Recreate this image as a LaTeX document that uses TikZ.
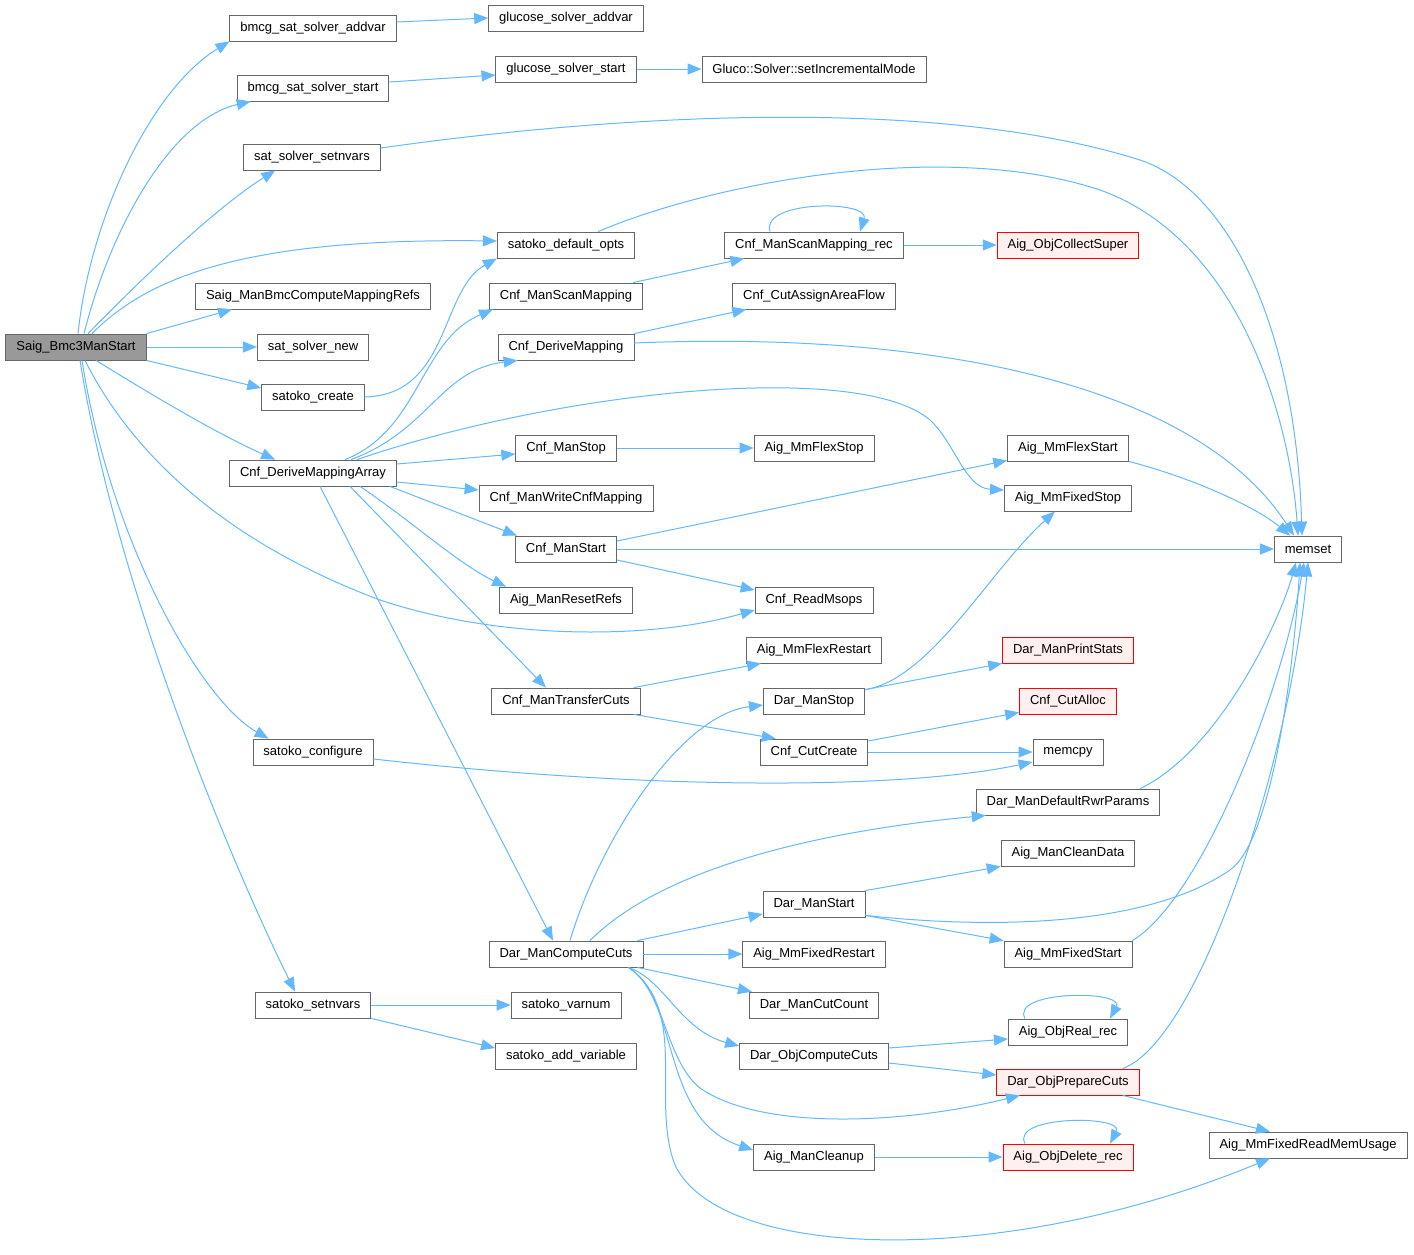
\documentclass[tikz,border=0pt]{standalone}
\usepackage{fontspec}
\setmainfont{Liberation Sans}
\usetikzlibrary{arrows.meta}

\definecolor{callBlue}{HTML}{63B8FF}
\definecolor{boxGray}{HTML}{666666}
\definecolor{rootGray}{HTML}{999999}
\definecolor{hotFill}{HTML}{FFF0F0}

\begin{document}
\begin{tikzpicture}[
    x=1pt, y=-1pt,
    fn/.style={
        draw=boxGray,
        line width=0.8pt,
        fill=white,
        minimum height=26pt,
        inner xsep=10.5pt,
        inner ysep=0pt,
        font=\fontsize{13}{15}\selectfont
    },
    rootfn/.style={fn, fill=rootGray},
    hotfn/.style={fn, draw=red, fill=hotFill},
    call/.style={
        draw=callBlue,
        line width=1pt,
        -{Triangle[length=14pt, width=11pt]}
    }
]

% Page size of the graph
\useasboundingbox (0,0) rectangle (1414,1254);

% Root
\node[rootfn] (bmcStart) at (76,347) {Saig\_Bmc3ManStart};

% Column 1
\node[fn] (satAddvar)   at (313,28)   {bmcg\_sat\_solver\_addvar};
\node[fn] (satStart)    at (313,88)   {bmcg\_sat\_solver\_start};
\node[fn] (satSetnvars) at (312,157)  {sat\_solver\_setnvars};
\node[fn] (mapRefs)     at (313,296)  {Saig\_ManBmcComputeMappingRefs};
\node[fn] (satNew)      at (313,347)  {sat\_solver\_new};
\node[fn] (skCreate)    at (313,397)  {satoko\_create};
\node[fn] (deriveArr)   at (313,473)  {Cnf\_DeriveMappingArray};
\node[fn] (skConfig)    at (313,752)  {satoko\_configure};
\node[fn] (skSetnvars)  at (313,1005) {satoko\_setnvars};

% Column 2
\node[fn] (glAddvar)     at (566,18)   {glucose\_solver\_addvar};
\node[fn] (glStart)      at (566,69)   {glucose\_solver\_start};
\node[fn] (skDefOpts)    at (566,245)  {satoko\_default\_opts};
\node[fn] (scanMap)      at (566,296)  {Cnf\_ManScanMapping};
\node[fn] (deriveMap)    at (566,347)  {Cnf\_DeriveMapping};
\node[fn] (cnfStop)      at (566,448)  {Cnf\_ManStop};
\node[fn] (writeMap)     at (566,498)  {Cnf\_ManWriteCnfMapping};
\node[fn] (cnfStart)     at (566,549)  {Cnf\_ManStart};
\node[fn] (resetRefs)    at (566,600)  {Aig\_ManResetRefs};
\node[fn] (transferCuts) at (566,701)  {Cnf\_ManTransferCuts};
\node[fn] (computeCuts)  at (566,954)  {Dar\_ManComputeCuts};
\node[fn] (skVarnum)     at (566,1005) {satoko\_varnum};
\node[fn] (skAddVar)     at (566,1056) {satoko\_add\_variable};

% Column 3
\node[fn] (glIncr)       at (814,69)   {Gluco::Solver::setIncrementalMode};
\node[fn] (scanRec)      at (814,245)  {Cnf\_ManScanMapping\_rec};
\node[fn] (areaFlow)     at (814,296)  {Cnf\_CutAssignAreaFlow};
\node[fn] (flexStop)     at (814,448)  {Aig\_MmFlexStop};
\node[fn] (readMsops)    at (814,600)  {Cnf\_ReadMsops};
\node[fn] (flexRestart)  at (814,650)  {Aig\_MmFlexRestart};
\node[fn] (darStop)      at (814,701)  {Dar\_ManStop};
\node[fn] (cutCreate)    at (814,752)  {Cnf\_CutCreate};
\node[fn] (darStart)     at (814,904)  {Dar\_ManStart};
\node[fn] (fixedRestart) at (814,954)  {Aig\_MmFixedRestart};
\node[fn] (cutCount)     at (814,1005) {Dar\_ManCutCount};
\node[fn] (objCompute)   at (814,1056) {Dar\_ObjComputeCuts};
\node[fn] (cleanup)      at (814,1157) {Aig\_ManCleanup};

% Column 4
\node[hotfn] (collectSuper) at (1068,245)  {Aig\_ObjCollectSuper};
\node[fn]    (flexStart)    at (1068,448)  {Aig\_MmFlexStart};
\node[fn]    (fixedStop)    at (1068,498)  {Aig\_MmFixedStop};
\node[hotfn] (printStats)   at (1068,650)  {Dar\_ManPrintStats};
\node[hotfn] (cutAlloc)     at (1068,701)  {Cnf\_CutAlloc};
\node[fn]    (memcpy)       at (1068,752)  {memcpy};
\node[fn]    (rwrParams)    at (1068,802)  {Dar\_ManDefaultRwrParams};
\node[fn]    (cleanData)    at (1068,853)  {Aig\_ManCleanData};
\node[fn]    (fixedStart)   at (1068,954)  {Aig\_MmFixedStart};
\node[fn]    (realRec)      at (1068,1032) {Aig\_ObjReal\_rec};
\node[hotfn] (objPrepare)   at (1068,1082) {Dar\_ObjPrepareCuts};
\node[hotfn] (deleteRec)    at (1068,1157) {Aig\_ObjDelete\_rec};

% Column 5
\node[fn] (memset)   at (1308,549)  {memset};
\node[fn] (memUsage) at (1308,1145) {Aig\_MmFixedReadMemUsage};

% Calls from the root
\draw[call] ([xshift=2pt]bmcStart.north)
    .. controls (90,220) and (150,90) .. (satAddvar.south west);
\draw[call] ([xshift=8pt]bmcStart.north)
    .. controls (110,230) and (170,120) .. ([xshift=14pt]satStart.south west);
\draw[call] ([xshift=12pt]bmcStart.north)
    .. controls (150,270) and (220,205) .. ([xshift=32pt]satSetnvars.south west);
\draw[call] ([xshift=16pt]bmcStart.north)
    .. controls (150,275) and (250,238) .. ([yshift=4pt]skDefOpts.west);
\draw[call] (bmcStart.north east) -- ([xshift=37pt]mapRefs.south west);
\draw[call] (bmcStart.east) -- (satNew.west);
\draw[call] (bmcStart.south east) -- ([yshift=9pt]skCreate.west);
\draw[call] ([xshift=20pt]bmcStart.south)
    .. controls (160,400) and (220,435) .. ([xshift=46pt]deriveArr.north west);
\draw[call] ([xshift=9pt]bmcStart.south)
    .. controls (130,450) and (220,540) .. (380,600)
    .. controls (500,640) and (650,640) .. ([yshift=-10pt]readMsops.west);
\draw[call] ([xshift=6pt]bmcStart.south)
    .. controls (110,540) and (200,700) .. ([xshift=16pt]skConfig.north west);
\draw[call] ([xshift=4pt]bmcStart.south)
    .. controls (115,580) and (225,850) .. ([xshift=-18pt]skSetnvars.north);

% SAT solver calls
\draw[call] ([yshift=6pt]satAddvar.east) -- (glAddvar.west);
\draw[call] ([yshift=6pt]satStart.east) -- ([yshift=-6pt]glStart.west);
\draw[call] (glStart.east) -- (glIncr.west);
\draw[call] ([yshift=9pt]satSetnvars.east)
    .. controls (650,110) and (950,100) .. (1140,160)
    .. controls (1230,190) and (1296,330) .. ([xshift=-6pt]memset.north);
\draw[call] ([xshift=32pt]skDefOpts.north)
    .. controls (720,180) and (950,140) .. (1100,190)
    .. controls (1240,240) and (1290,420) .. ([xshift=-10pt]memset.north);
\draw[call] (skCreate.east)
    .. controls (450,395) and (440,290) .. (skDefOpts.south west);
\draw[call] (skSetnvars.east) -- (skVarnum.west);
\draw[call] (skSetnvars.south east) -- ([yshift=8pt]skAddVar.west);
\draw[call] ([yshift=-7pt]skConfig.east)
    .. controls (650,790) and (900,790) .. ([yshift=-10pt]memcpy.west);

% Mapping calls
\draw[call] ([xshift=32pt]deriveArr.north)
    .. controls (420,430) and (420,340) .. ([xshift=4pt]scanMap.south west);
\draw[call] ([xshift=38pt]deriveArr.north)
    .. controls (430,430) and (440,370) .. ([xshift=20pt]deriveMap.south west);
\draw[call] ([xshift=44pt]deriveArr.north)
    .. controls (560,390) and (860,360) .. (930,420)
    .. controls (955,443) and (965,488) .. ([yshift=8pt]fixedStop.west);
\draw[call] ([yshift=9pt]deriveArr.east) -- ([yshift=-6pt]cnfStop.west);
\draw[call] ([yshift=-9pt]deriveArr.east) -- ([yshift=8pt]writeMap.west);
\draw[call] ([xshift=-7pt]deriveArr.south east) -- ([xshift=2pt]cnfStart.north west);
\draw[call] ([xshift=47pt]deriveArr.south)
    .. controls (410,520) and (460,565) .. ([xshift=7pt]resetRefs.north west);
\draw[call] ([xshift=37pt]deriveArr.south) -- ([xshift=-20pt]transferCuts.north);
\draw[call] ([xshift=7pt]deriveArr.south) -- ([xshift=-13pt]computeCuts.north);
\draw[call] ([xshift=-10pt]scanMap.north east) -- ([xshift=20pt]scanRec.south west);
\draw[call] ([xshift=-44pt]scanRec.north)
    .. controls (760,200) and (870,200) .. ([xshift=46pt]scanRec.north);
\draw[call] (scanRec.east) -- (collectSuper.west);
\draw[call] (deriveMap.north east) -- ([xshift=14pt]areaFlow.south west);
\draw[call] ([yshift=4pt]deriveMap.east)
    .. controls (950,330) and (1200,390) .. ([xshift=-14pt]memset.north);
\draw[call] (cnfStop.east) -- (flexStop.west);
\draw[call] ([yshift=8pt]cnfStart.east) -- ([yshift=1pt]flexStart.south west);
\draw[call] (cnfStart.east) -- (memset.west);
\draw[call] ([yshift=-11pt]cnfStart.east) -- ([yshift=10pt]readMsops.west);
\draw[call] (flexStart.south east)
    .. controls (1200,480) and (1260,510) .. ([xshift=-18pt]memset.north);
\draw[call] ([xshift=-7pt]transferCuts.north east) -- ([xshift=15pt]flexRestart.south west);
\draw[call] ([xshift=-7pt]transferCuts.south east) -- ([xshift=16pt]cutCreate.north west);
\draw[call] (cutCreate.east) -- (memcpy.west);
\draw[call] ([yshift=11pt]cutCreate.east) -- ([yshift=2pt]cutAlloc.south west);

% Rewriting calls
\draw[call] ([yshift=-2pt]darStop.north east) -- (printStats.south west);
\draw[call] ([yshift=-2pt]darStop.north east)
    .. controls (930,680) and (990,570) .. ([xshift=-13pt]fixedStop.south);
\draw[call] ([xshift=4pt]computeCuts.north)
    .. controls (600,840) and (680,715) .. ([yshift=-4pt]darStop.west);
\draw[call] ([xshift=24pt]computeCuts.north)
    .. controls (650,880) and (780,835) .. ([xshift=10pt]rwrParams.south west);
\draw[call] ([xshift=-6pt]computeCuts.north east) -- ([yshift=-10pt]darStart.west);
\draw[call] (computeCuts.east) -- (fixedRestart.west);
\draw[call] ([xshift=-6pt]computeCuts.south east) -- ([xshift=3pt]cutCount.north west);
\draw[call] ([xshift=-15pt]computeCuts.south east)
    .. controls (665,980) and (680,1030) .. ([yshift=10pt]objCompute.west);
\draw[call] ([xshift=-15pt]computeCuts.south east)
    .. controls (665,990) and (665,1060) .. (700,1088)
    .. controls (760,1130) and (900,1125) .. ([xshift=-48pt]objPrepare.south);
\draw[call] ([xshift=-15pt]computeCuts.south east)
    .. controls (680,1000) and (660,1120) .. ([yshift=7pt]cleanup.west);
\draw[call] ([xshift=-15pt]computeCuts.south east)
    .. controls (690,1010) and (650,1100) .. (675,1165)
    .. controls (720,1260) and (1000,1270) .. ([xshift=-38pt]memUsage.south);
\draw[call] (darStart.north east) -- (cleanData.south west);
\draw[call] ([yshift=2pt]darStart.south east) -- (fixedStart.north west);
\draw[call] ([yshift=2pt]darStart.south east)
    .. controls (1000,930) and (1150,925) .. (1230,870)
    .. controls (1275,838) and (1295,650) .. ([xshift=-8pt]memset.south);
\draw[call] (fixedStart.north east)
    .. controls (1200,900) and (1280,700) .. ([xshift=-4pt]memset.south);
\draw[call] ([xshift=-20pt]rwrParams.north east)
    .. controls (1220,750) and (1280,620) .. ([xshift=-12pt]memset.south);
\draw[call] ([yshift=8pt]objCompute.east) -- ([yshift=-7pt]realRec.west);
\draw[call] ([yshift=-7pt]objCompute.east) -- ([yshift=7pt]objPrepare.west);
\draw[call] ([xshift=-43pt]realRec.north)
    .. controls (1010,990) and (1125,990) .. ([xshift=42pt]realRec.north);
\draw[call] ([xshift=-17pt]objPrepare.north east)
    .. controls (1200,1040) and (1290,760) .. (memset.south);
\draw[call] ([xshift=-17pt]objPrepare.south east) -- ([xshift=-38pt]memUsage.north);
\draw[call] (cleanup.east) -- (deleteRec.west);
\draw[call] ([xshift=-43pt]deleteRec.north)
    .. controls (1010,1115) and (1125,1115) .. ([xshift=42pt]deleteRec.north);

\end{tikzpicture}
\end{document}
